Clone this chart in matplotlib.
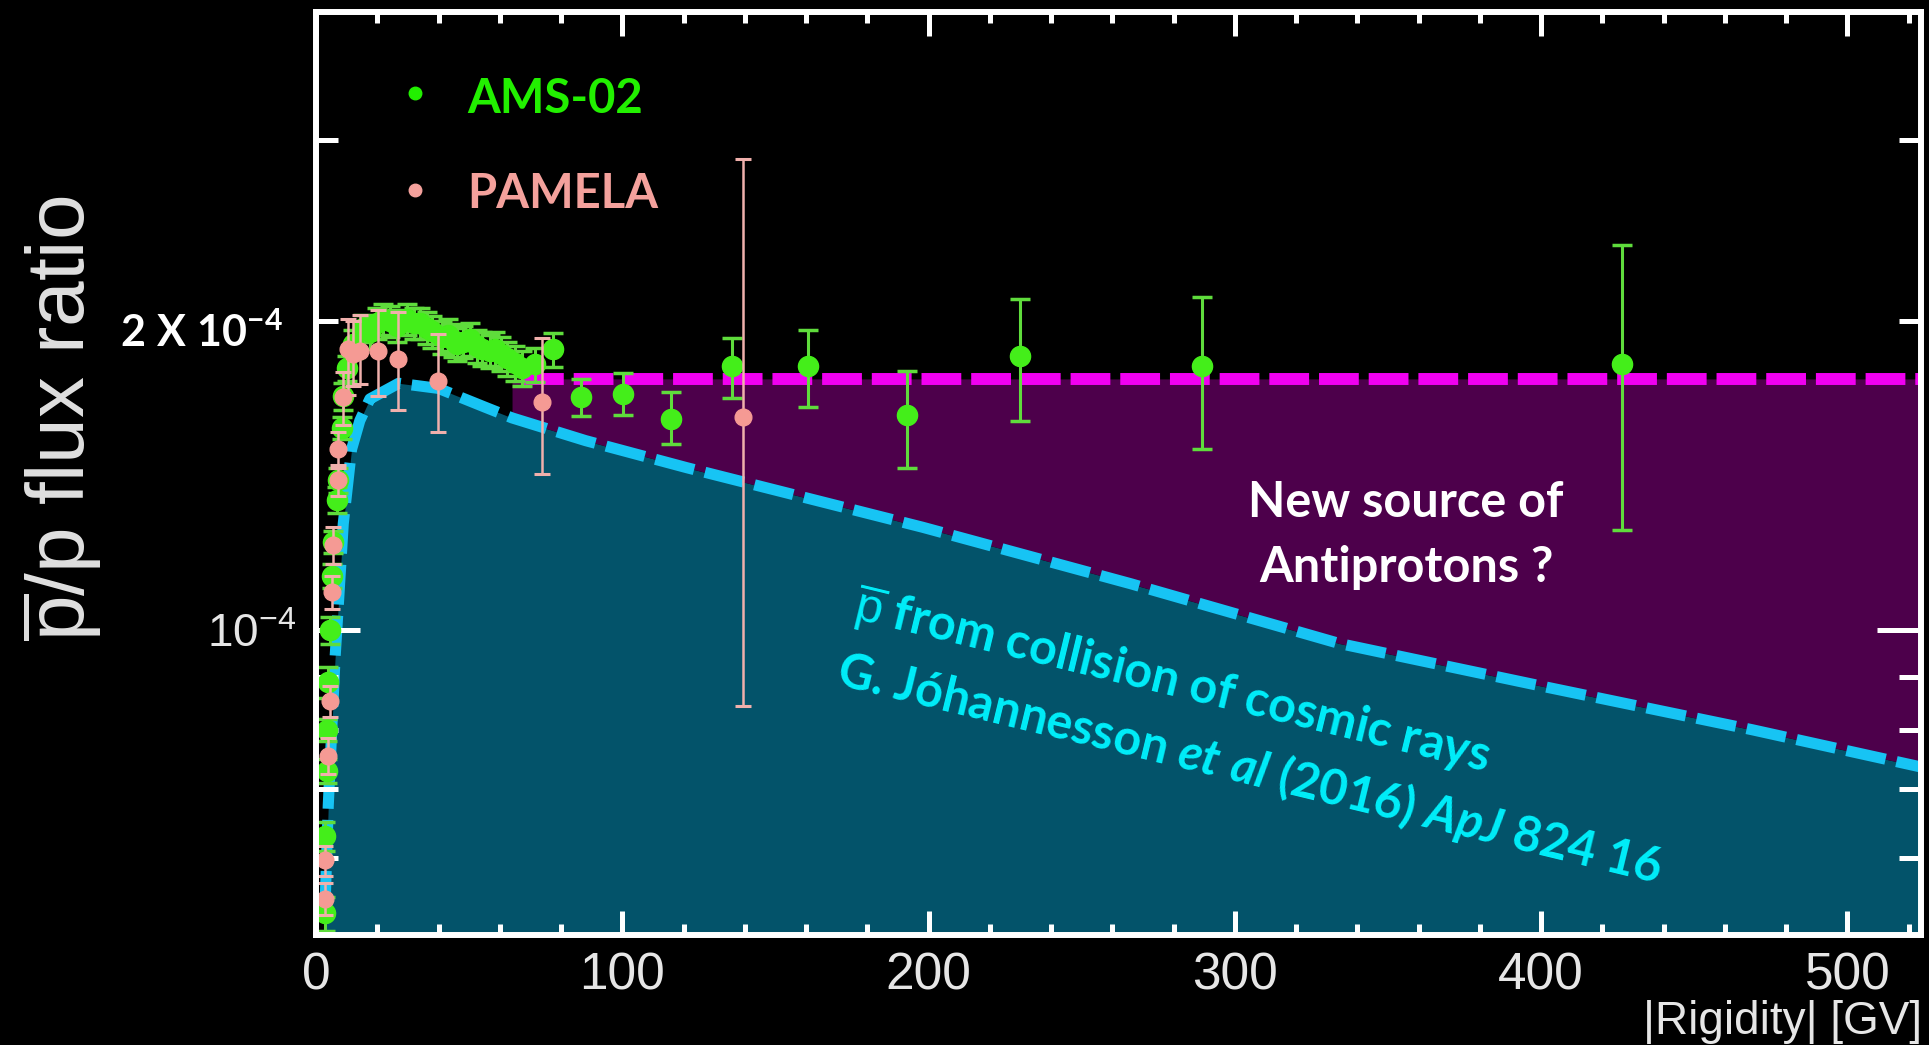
import numpy as np
import matplotlib
matplotlib.use("Agg")
import matplotlib.pyplot as plt
from matplotlib.ticker import MultipleLocator, NullFormatter

W, H = 1929, 1045

# antiproton / proton flux ratio, values in units of 1e-4, rigidity in GV
ams_r = [2.9, 2.9, 3.6, 3.6, 4.0, 4.6, 5.3, 5.7, 6.8, 7.2,
         8.4, 8.9, 10.0, 12.0, 15.3, 17.5, 19.8, 22.0, 24.0, 26.5,
         29.6, 32.0, 34.0, 36.2, 38.0, 41.0, 43.0, 44.7, 46.0, 48.0,
         50.2, 52.5, 54.2, 56.8, 58.4, 60.5, 62.3, 65.0, 67.2, 71.5,
         77.3, 86.5, 100.3, 116.0, 135.7, 160.5, 192.8, 230.0, 289.4, 426.4]
ams_v = [0.53, 0.63, 0.73, 0.80, 0.89, 1.00, 1.13, 1.22, 1.34, 1.40,
         1.575, 1.69, 1.80, 1.90, 1.97, 1.95, 1.99, 2.01, 2.00, 1.98,
         2.01, 1.99, 1.99, 1.97, 1.955, 1.93, 1.94, 1.916, 1.90, 1.91,
         1.92, 1.89, 1.88, 1.87, 1.88, 1.86, 1.84, 1.82, 1.80, 1.815,
         1.88, 1.687, 1.70, 1.607, 1.808, 1.808, 1.62, 1.85, 1.808, 1.816]
ams_dn = [0.02, 0.02, 0.02, 0.02, 0.03, 0.03, 0.03, 0.03, 0.04, 0.04,
          0.04, 0.05, 0.05, 0.06, 0.06, 0.07, 0.07, 0.07, 0.07, 0.07,
          0.07, 0.07, 0.07, 0.07, 0.07, 0.07, 0.07, 0.07, 0.07, 0.07,
          0.07, 0.07, 0.07, 0.07, 0.07, 0.07, 0.07, 0.07, 0.07, 0.07,
          0.076, 0.07, 0.08, 0.089, 0.125, 0.158, 0.18, 0.25, 0.308, 0.563]
ams_up = [0.02, 0.02, 0.02, 0.02, 0.03, 0.03, 0.03, 0.03, 0.04, 0.04,
          0.04, 0.05, 0.05, 0.06, 0.06, 0.07, 0.07, 0.07, 0.07, 0.07,
          0.07, 0.07, 0.07, 0.07, 0.07, 0.07, 0.07, 0.07, 0.07, 0.07,
          0.07, 0.07, 0.07, 0.07, 0.07, 0.07, 0.07, 0.07, 0.07, 0.07,
          0.067, 0.07, 0.08, 0.099, 0.117, 0.152, 0.17, 0.25, 0.302, 0.554]

pam_r = [2.9, 2.9, 3.9, 4.6, 5.2, 5.5, 7.2, 7.2, 8.9, 10.4, 12.0, 14.4, 20.2, 26.8, 39.8, 73.7, 139.3]
pam_v = [0.548, 0.597, 0.755, 0.853, 1.09, 1.21, 1.40, 1.50, 1.686, 1.88, 1.86, 1.87, 1.87, 1.836, 1.75, 1.67, 1.614]
pam_dn = [0.02, 0.02, 0.03, 0.03, 0.04, 0.05, 0.05, 0.06, 0.10, 0.185, 0.13, 0.133, 0.18, 0.196, 0.19, 0.25, 0.77]
pam_up = [0.02, 0.02, 0.03, 0.03, 0.04, 0.05, 0.05, 0.06, 0.10, 0.13, 0.14, 0.16, 0.18, 0.204, 0.195, 0.255, 1.266]

# secondary production model (Johannesson et al 2016)
model_r = [2.9, 4.0, 6.2, 8.9, 11.6, 14.3, 17.6, 27.0, 40.0, 55.0,
           64.0, 88.0, 121.0, 198.0, 266.0, 334.0, 402.0, 469.0, 524.0]
model_v = [0.533, 0.675, 0.937, 1.27, 1.50, 1.60, 1.68, 1.74, 1.72, 1.65,
           1.61, 1.53, 1.44, 1.26, 1.11, 0.971, 0.88, 0.80, 0.736]

new_src_level = 1.757
new_src_start = 64.0
new_src_line_start = 68.0

SC = 1e-4
YMIN, YMAX = 5.05e-5, 4.0e-4
XMAX = 524

plt.rcParams['font.family'] = ['Liberation Sans', 'DejaVu Sans']
plt.rcParams['mathtext.fontset'] = 'custom'
plt.rcParams['mathtext.sf'] = 'Liberation Sans'
plt.rcParams['mathtext.rm'] = 'Lato:bold'
plt.rcParams['mathtext.bf'] = 'Lato:bold'
plt.rcParams['mathtext.it'] = 'Lato:italic:bold'

fig = plt.figure(figsize=(W / 100, H / 100), dpi=100, facecolor='black')
ax = fig.add_axes([316 / W, 1 - 935 / H, (1921 - 316) / W, (935 - 12) / H])
ax.set_facecolor('black')
ax.set_yscale('log')
ax.set_xlim(0, XMAX)
ax.set_ylim(YMIN, YMAX)

mr = np.array(model_r)
mv = np.array(model_v) * SC
ax.fill_between(mr, YMIN, mv, color='#03536a', lw=0, zorder=1)
m = mr >= new_src_start
ax.fill_between(mr[m], mv[m], new_src_level * SC, color='#4d004b', lw=0, zorder=1)
ax.plot(mr, mv, color='#17c4f4', lw=8, ls=(0, (3.6, 1.0)), zorder=2)
ax.plot([new_src_line_start, XMAX], [new_src_level * SC] * 2, color='#f000f0',
        lw=8.6, ls=(0, (3.33, 0.83)), zorder=2)

ax.errorbar(ams_r, np.array(ams_v) * SC,
            yerr=[np.array(ams_dn) * SC, np.array(ams_up) * SC],
            fmt='o', ms=14.5, color='#44ee1a', ecolor='#5fdc3c',
            elinewidth=2.2, capsize=7, capthick=2.5, zorder=4)
ax.errorbar(pam_r, np.array(pam_v) * SC,
            yerr=[np.array(pam_dn) * SC, np.array(pam_up) * SC],
            fmt='o', ms=12, color='#f59a94', ecolor='#f0b0ac',
            elinewidth=1.8, capsize=5.5, capthick=2.2, zorder=5)

for s in ax.spines.values():
    s.set_color('white')
    s.set_linewidth(4.3)
    s.set_zorder(6)
ax.set_axisbelow(False)

ax.xaxis.set_major_locator(MultipleLocator(100))
ax.xaxis.set_minor_locator(MultipleLocator(20))
ax.set_yticks([1e-4], [r'$\mathsf{10^{-4}}$'])
ax.set_yticks([6e-5, 7e-5, 8e-5, 9e-5, 2e-4, 3e-4], minor=True)
ax.yaxis.set_minor_formatter(NullFormatter())

ax.tick_params(axis='both', which='both', direction='in', top=True, right=True,
               color='white', width=3.6, labelcolor='#e6e6e6')
ax.tick_params(axis='x', which='major', length=17, labelsize=37, pad=12)
ax.tick_params(axis='x', which='minor', length=8)
ax.tick_params(axis='y', which='major', length=32, labelsize=33, pad=14)
ax.tick_params(axis='y', which='minor', length=16)

# axis titles
fig.text(61 / W, 1 - 418 / H, r'$\overline{\mathsf{p}}$/p flux ratio', rotation=90,
         ha='center', va='center', fontsize=59, color='#e0e0e0')
fig.text(1922 / W, 1 - 1034 / H, '|Rigidity| [GV]', ha='right', va='baseline',
         fontsize=33, color='#e6e6e6')
fig.text(283 / W, 1 - 347 / H, r'$\mathbf{2\ X\ 10^{-4}}$', ha='right', va='baseline',
         fontsize=31, color='white')

# legend
lato = dict(fontfamily='Lato', fontweight='bold')
ax.plot([0.0617], [0.912], 'o', ms=9, color='#22f000', transform=ax.transAxes, clip_on=False)
ax.plot([0.0617], [0.807], 'o', ms=9, color='#f4a19c', transform=ax.transAxes, clip_on=False)
fig.text(467 / W, 1 - 113 / H, 'AMS-02', color='#22f000', fontsize=34, va='baseline', **lato)
fig.text(467 / W, 1 - 208 / H, 'PAMELA', color='#f4a19c', fontsize=34, va='baseline', **lato)

# annotations
fig.text(1406 / W, 1 - 517 / H, 'New source of', ha='center', va='baseline',
         fontsize=35, color='white', **lato)
fig.text(1406 / W, 1 - 582 / H, 'Antiprotons ?', ha='center', va='baseline',
         fontsize=35, color='white', **lato)
fig.text(1172 / W, 1 - 682 / H, r'$\overline{\mathsf{p}}$ from collision of cosmic rays',
         rotation=-13.6, rotation_mode='anchor', ha='center', va='center',
         fontsize=35, color='#00eefa', **lato)
fig.text(1250 / W, 1 - 768 / H, r'G. Jóhannesson $\mathit{et\ al}$ (2016) $\mathit{ApJ}$ 824 16',
         rotation=-13.6, rotation_mode='anchor', ha='center', va='center',
         fontsize=35, color='#00eefa', **lato)

fig.savefig('out.png', dpi=100, facecolor='black')
